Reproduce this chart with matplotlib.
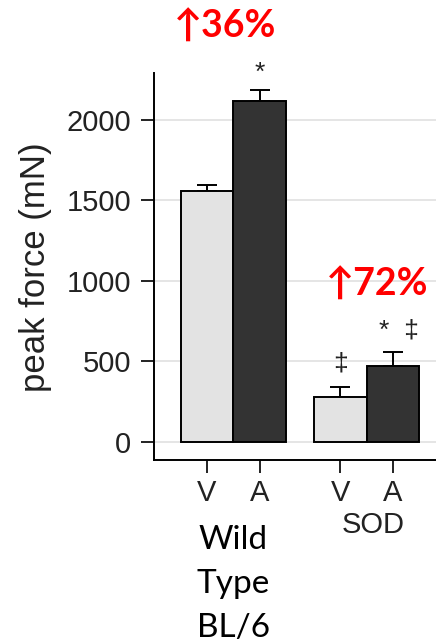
import matplotlib.pyplot as plt

plt.rcParams['font.family'] = ['Liberation Sans', 'DejaVu Sans']

groups = ['Wild\nType\nBL/6', 'SOD']
treatments = ['V', 'A', 'V', 'A']
peak_force = [1559, 2120, 278, 472]
sem = [37, 64, 62, 89]
bar_colors = ['#e3e3e3', '#333333', '#e3e3e3', '#333333']
marks = ['', '*', '\u2021', '*  \u2021']
increases = ['\u219136%', '\u219172%']

positions = [0, 1, 2.54, 3.54]

W, H = 436, 642
fig = plt.figure(figsize=(W / 100, H / 100), dpi=100)
ax = fig.add_axes([154 / W, 1 - 460 / H, 1 - 154 / W, (460 - 73) / H])

ax.bar(positions, peak_force, width=1.0, color=bar_colors,
       edgecolor='black', linewidth=1.4, zorder=3)
ax.errorbar(positions, [v + e / 2 for v, e in zip(peak_force, sem)],
            yerr=[[e / 2 for e in sem], [e / 2 for e in sem]],
            fmt='none', ecolor='black', elinewidth=1.4, capsize=7,
            capthick=1.4, zorder=2)

ax.set_xlim(-1.01, 4.36)
ax.set_ylim(-112, 2292)
ax.set_yticks([0, 500, 1000, 1500, 2000])
ax.set_xticks(positions)
ax.set_xticklabels(treatments)
ax.tick_params(axis='both', labelsize=21, length=9.5, width=1.4,
               colors='#222222')
ax.tick_params(axis='y', pad=7)
ax.tick_params(axis='x', pad=4)
ax.grid(axis='y', color='#e0e0e0', linewidth=1.2, zorder=0)
for side in ['top', 'right']:
    ax.spines[side].set_visible(False)
for side in ['left', 'bottom']:
    ax.spines[side].set_linewidth(1.4)
ax.set_ylabel('peak force (mN)', fontsize=25, color='#222222')
ax.yaxis.set_label_coords((52 - 154) / (W - 154), (460 - 267) / (460 - 73))

# significance marks above each bar
mark_offsets = [0, 110, 150, 130]
mark_shift = [0, 0, 0, 0.12]
for x, v, e, m, off, dx in zip(positions, peak_force, sem, marks,
                               mark_offsets, mark_shift):
    if m:
        ax.text(x + dx, v + e + off, m, ha='center', va='center',
                fontsize=19, color='#222222', zorder=4)

# group names under the x tick labels
ax.text(positions[0] + 0.5, -515, groups[0], ha='center', va='top',
        fontsize=24, color='black', family=['Lato', 'DejaVu Sans'],
        linespacing=1.58, clip_on=False)
ax.text(positions[2] + 0.63, -430, groups[1], ha='center', va='top',
        fontsize=21, color='#222222', clip_on=False)

# percentage gains of A over V
fig.text(225 / W, 1 - 27 / H, increases[0], ha='center', va='center',
         fontsize=27, fontweight='bold', color='#ff0000',
         family=['Lato', 'DejaVu Sans'])
fig.text(377 / W, 1 - 285 / H, increases[1], ha='center', va='center',
         fontsize=27, fontweight='bold', color='#ff0000',
         family=['Lato', 'DejaVu Sans'])

fig.savefig('out.png', dpi=100)
